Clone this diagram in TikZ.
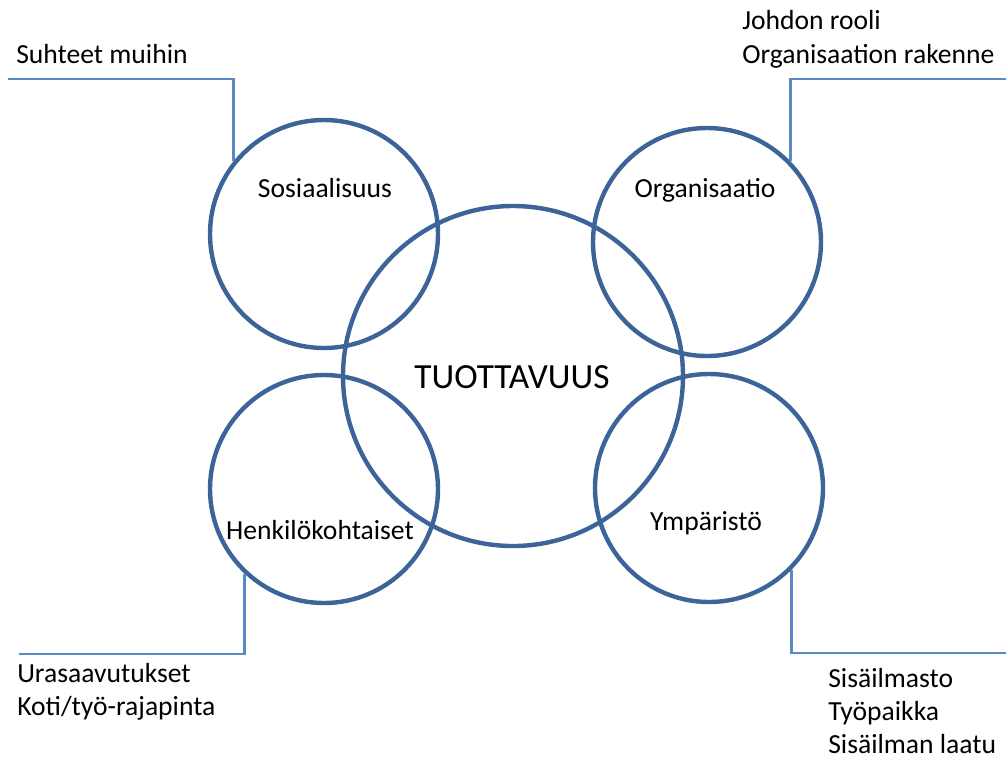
\documentclass[tikz,border=0pt]{standalone}
\usepackage{fontspec}
\setmainfont{Carlito}
\usepackage{xcolor}
\usepackage{tikz}
\usetikzlibrary{positioning,calc}
\definecolor{ringblue}{HTML}{3D6498}
\definecolor{lineblue}{HTML}{5A8AC6}

\tikzset{
  ring/.style={circle,draw=ringblue,line width=3.3pt,minimum size=171pt,inner sep=0pt},
  bigring/.style={ring,minimum size=255pt},
  conn/.style={draw=lineblue,line width=2.2pt},
  note/.style={font=\fontsize{20.7}{24.75}\selectfont,inner sep=0pt,anchor=base west},
  tag/.style={font=\fontsize{20.7}{24.75}\selectfont,inner sep=0pt,anchor=base}
}

\begin{document}
\begin{tikzpicture}[x=0.75pt,y=-0.75pt]
  \useasboundingbox (0,0) rectangle (1006,758);
  % the five circles (pixel coordinates, y down)
  \node[bigring] (tuott) at (513,376) {};
  \node[ring] (sos) at (324,234) {};
  \node[ring] (org) at (707,242) {};
  \node[ring] (henk) at (324,489) {};
  \node[ring] (ymp) at (709,488) {};
  % circle texts
  \node[tag,font=\fontsize{26.5}{30}\selectfont] (tuottlbl) at (512,388) {TUOTTAVUUS};
  \node[tag] (soslbl) at (325,197) {Sosiaalisuus};
  \node[tag] (orglbl) at (705,197) {Organisaatio};
  \node[tag] (henklbl) at (320,539) {Henkilökohtaiset};
  \node[tag] (ymplbl) at (706,530) {Ympäristö};
  % ends of the connectors
  \coordinate (sosend) at (8,79);
  \coordinate (orgend) at (1006,79);
  \coordinate (henkend) at (19,654);
  \coordinate (ympend) at (1006,653);
  \draw[conn] (sos.141) |- (sosend);
  \draw[conn] (org.44) |- (orgend);
  \draw[conn] (henk.227) |- (henkend);
  \draw[conn] (ymp.315) |- (ympend);
  % outer notes
  \node[note] (sosn1) at (16,63) {Suhteet muihin};
  \node[note] (orgn1) at (742,29) {Johdon rooli};
  \node[note] (orgn2) at (742,63) {Organisaation rakenne};
  \node[note] (henkn1) at (17,682) {Urasaavutukset};
  \node[note] (henkn2) at (17,715) {Koti/työ-rajapinta};
  \node[note] (ympn1) at (828,687) {Sisäilmasto};
  \node[note] (ympn2) at (828,720) {Työpaikka};
  \node[note] (ympn3) at (828,753) {Sisäilman laatu};
\end{tikzpicture}
\end{document}
